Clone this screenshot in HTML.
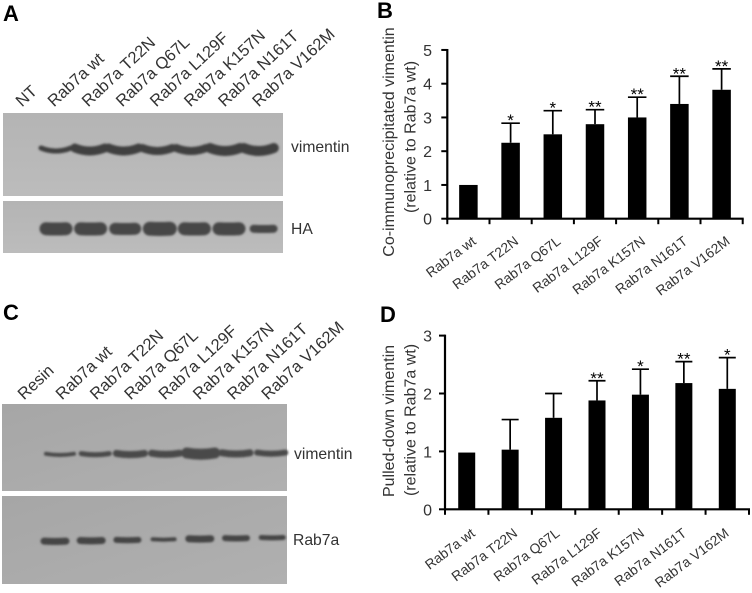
<!DOCTYPE html>
<html>
<head>
<meta charset="utf-8">
<style>
html,body{margin:0;padding:0;background:#fff;}
svg{display:block;font-family:"Liberation Sans",sans-serif;}
text{fill:#333;}
</style>
</head>
<body>
<svg id="fig" xmlns="http://www.w3.org/2000/svg" width="752" height="593" viewBox="0 0 752 593">
  <defs>
    <filter id="soft" x="-20%" y="-80%" width="140%" height="260%"><feGaussianBlur stdDeviation="1.1"/></filter>
    <linearGradient id="blotA" x1="0" y1="0" x2="0" y2="1"><stop offset="0" stop-color="#b4b4b4"/><stop offset="1" stop-color="#bcbcbc"/></linearGradient>
    <linearGradient id="blotC" x1="0" y1="0" x2="1" y2="1"><stop offset="0" stop-color="#a6a6a6"/><stop offset="1" stop-color="#b0b0b0"/></linearGradient>
  </defs>

  <text x="3" y="21" font-size="22" font-weight="bold" style="fill:#000">A</text>
  <text x="377" y="18" font-size="22" font-weight="bold" style="fill:#000">B</text>
  <text x="3" y="320" font-size="22" font-weight="bold" style="fill:#000">C</text>
  <text x="380" y="322" font-size="22" font-weight="bold" style="fill:#000">D</text>

  <rect x="3" y="113" width="280" height="83" fill="url(#blotA)"/>
  <rect x="3" y="201" width="280" height="52" fill="url(#blotA)"/>
  <rect x="2" y="404" width="285" height="87" fill="url(#blotC)"/>
  <rect x="2" y="496" width="285" height="88" fill="url(#blotC)"/>
  <g id="bands" filter="url(#soft)"></g>

  <text x="291" y="152" font-size="15.7">vimentin</text>
  <text x="291" y="234" font-size="15.7">HA</text>
  <text x="294" y="459" font-size="15.7">vimentin</text>
  <text x="293" y="545" font-size="15.7">Rab7a</text>

  <g id="laneLabels"></g>

  <g id="chartB"></g>
  <g id="chartD"></g>
</svg>

<script>
// Shared categories
const categories = ["Rab7a wt", "Rab7a T22N", "Rab7a Q67L", "Rab7a L129F", "Rab7a K157N", "Rab7a N161T", "Rab7a V162M"];

// Chart B data
const valuesB = [1, 2.25, 2.5, 2.8, 3.0, 3.4, 3.82];
const errTopsB = [null, 2.83, 3.2, 3.23, 3.6, 4.22, 4.44];
const starsB = ["", "*", "*", "**", "**", "**", "**"];
const ticksB = [0, 1, 2, 3, 4, 5];

// Chart D data
const valuesD = [0.98, 1.03, 1.58, 1.88, 1.98, 2.18, 2.08];
const errTopsD = [null, 1.55, 2.0, 2.22, 2.42, 2.55, 2.62];
const starsD = ["", "", "", "**", "*", "**", "*"];
const ticksD = [0, 1, 2, 3];

// Blot band intensities (thickness of each lane's band)
const bandsAVim = [5, 9, 9, 8, 8, 10, 10];
const bandsAHA = [13, 13, 12, 14, 13, 13, 8];
const bandsCVim = [4, 5, 7, 7, 11, 7, 6];
const bandsCRab = [7, 7, 6, 4, 7, 6, 5];

const NS = "http://www.w3.org/2000/svg";
function el(parent, tag, attrs, txt) {
  const e = document.createElementNS(NS, tag);
  for (const k in attrs) e.setAttribute(k, attrs[k]);
  if (txt !== undefined) e.textContent = txt;
  parent.appendChild(e);
  return e;
}

function drawBands(thicks, x0, step, w, y, tilt, curve, color) {
  const g = document.getElementById("bands");
  thicks.forEach(function (t, i) {
    const cx = x0 + step * i;
    const yy = y - tilt * i;
    const d = "M" + (cx - w / 2) + " " + (yy - curve) + " Q" + cx + " " + (yy + curve) + " " + (cx + w / 2) + " " + (yy - curve);
    const p = el(g, "path", { d: d, fill: "none", stroke: color, "stroke-width": t, "stroke-linecap": "round" });
    
    
  });
}
drawBands(bandsAVim, 56, 33.8, 30, 151, 0, 3, "#404040");
drawBands(bandsAHA, 56, 34.6, 20, 229, 0, 0.3, "#474747");
drawBands(bandsCVim, 60, 35.2, 28, 455, 0.2, 1.2, "#4a4a4a");
drawBands(bandsCRab, 55, 36.2, 22, 541.5, 0.6, 0.4, "#444444");

// Lane labels on the blots
const laneA = ["NT"].concat(categories);
const laneC = ["Resin"].concat(categories);
function drawLanes(names, firstX, secondX, stepX, y) {
  const g = document.getElementById("laneLabels");
  names.forEach(function (n, i) {
    const x = i === 0 ? firstX : secondX + stepX * (i - 1);
    const t = el(g, "text", { transform: "translate(" + x + " " + y + ") rotate(-43)", "font-size": 16.5 }, n);
    
    
  });
}
drawLanes(laneA, 22, 54, 34.1, 107.5);
drawLanes(laneC, 24, 62, 34.3, 400.5);

function drawChart(gId, o) {
  const g = document.getElementById(gId);
  const y = function (v) { return o.y0 - v * o.unit; };
  const step = (o.xEnd - o.x0) / o.cats.length;
  const cx = function (i) { return o.x0 + step * (i + 0.5); };

  o.vals.forEach(function (v, i) {
    if (o.errs[i] !== null) {
      const ln = el(g, "line", { x1: cx(i), x2: cx(i), y1: y(v), y2: y(o.errs[i]), stroke: "#000", "stroke-width": 1.7 });
      
      
      const cap = el(g, "line", { x1: cx(i) - o.barW / 2, x2: cx(i) + o.barW / 2, y1: y(o.errs[i]), y2: y(o.errs[i]), stroke: "#000", "stroke-width": 1.7 });
      
      
    }
    const r = el(g, "rect", { x: cx(i) - o.barW / 2, y: y(v), width: o.barW, height: o.y0 - y(v), fill: "#000" });
    
    
    if (o.stars[i]) {
      const s = el(g, "text", { x: cx(i), y: y(o.errs[i]) + 3, "text-anchor": "middle", "font-size": 17, style: "fill:#000" }, o.stars[i]);
      
      
    }
    const lb = el(g, "text", { transform: "translate(" + (o.labelX0 + o.labelStep * i) + " " + o.labelY + ") rotate(-37)", "text-anchor": "end", "font-size": 13.8 }, o.cats[i]);
    
    
  });

  const ya = el(g, "line", { x1: o.x0, x2: o.x0, y1: y(o.ticks[o.ticks.length - 1]) - 1, y2: o.y0 + 1, stroke: "#000", "stroke-width": 2.2 });
  
  
  const xa = el(g, "line", { x1: o.x0 - 1, x2: o.xEnd + 1, y1: o.y0, y2: o.y0, stroke: "#000", "stroke-width": 2.2 });
  
  

  o.ticks.forEach(function (t) {
    const tk = el(g, "line", { x1: o.x0 - 6, x2: o.x0, y1: y(t), y2: y(t), stroke: "#000", "stroke-width": 2 });
    
    
    const tl = el(g, "text", { x: 432, y: y(t) + 6, "text-anchor": "end", "font-size": 16 }, t);
    
    
  });
  for (let i = 0; i <= o.cats.length; i++) {
    const xt = o.x0 + step * i;
    const tk = el(g, "line", { x1: xt, x2: xt, y1: o.y0, y2: o.y0 + 5.5, stroke: "#000", "stroke-width": 2 });
    
    
  }

  const t1 = el(g, "text", { transform: "translate(" + o.t1x + " " + o.t1y + ") rotate(-90)", "text-anchor": "middle", "font-size": 16 }, o.title1);
  
  
  const t2 = el(g, "text", { transform: "translate(" + o.t2x + " " + o.t2y + ") rotate(-90)", "text-anchor": "middle", "font-size": 16 }, o.title2);
  
  
}

drawChart("chartB", {
  cats: categories, vals: valuesB, errs: errTopsB, stars: starsB, ticks: ticksB,
  x0: 447.3, xEnd: 742.7, y0: 218.7, unit: 33.75, barW: 18.5,
  labelX0: 477, labelStep: 42.3, labelY: 243,
  title1: "Co-immunoprecipitated vimentin", title2: "(relative to Rab7a  wt)",
  t1x: 394, t1y: 142, t2x: 415.5, t2y: 137
});
drawChart("chartD", {
  cats: categories, vals: valuesD, errs: errTopsD, stars: starsD, ticks: ticksD,
  x0: 445, xEnd: 749, y0: 509.3, unit: 57.9, barW: 17,
  labelX0: 476, labelStep: 42.3, labelY: 535,
  title1: "Pulled-down vimentin", title2: "(relative to Rab7a  wt)",
  t1x: 394, t1y: 421, t2x: 415.5, t2y: 420
});
</script>
</body>
</html>
